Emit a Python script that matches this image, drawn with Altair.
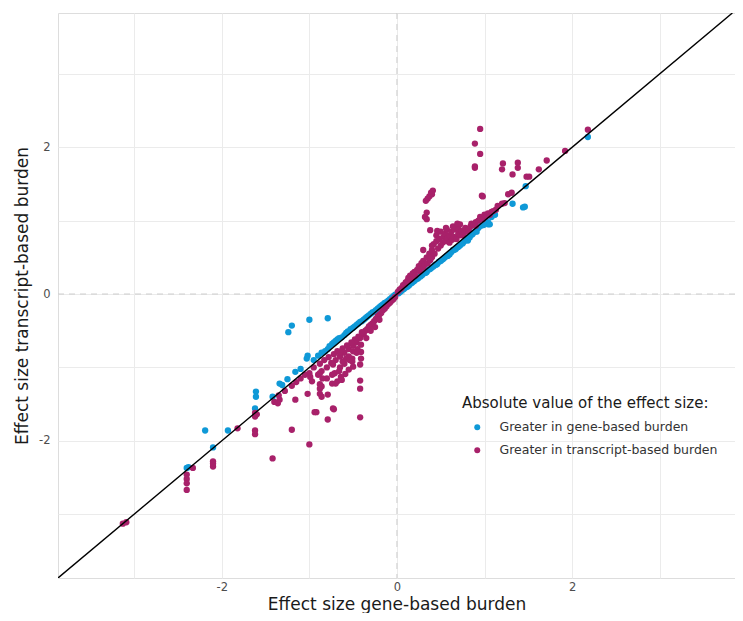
import altair as alt
import pandas as pd

# ---- data ----
blue_x = [0.02, 0.04, 0.06, 0.08, 0.10, 0.12, 0.14, 0.15, 0.17, 0.19, 0.20, 0.22, 0.24, 0.25, 0.27,
          0.29, 0.30, 0.32, 0.34, 0.36, 0.38, 0.40, 0.42, 0.44, 0.46, 0.48, 0.50, 0.52, 0.55, 0.57,
          0.60, 0.62, 0.65, 0.68, 0.70, 0.73, 0.76, 0.78, 0.80, 0.84, 0.88, 0.90, 0.93, 0.96, 1.04,
          1.04, 1.02, 1.08, 1.12, 1.32, 1.44, 1.46, 1.47, 2.18, 1.06, 0.86, 0.64, 0.81, 0.60, 0.72,
          0.33, 0.45, 0.53, 0.67, 0.75, 0.91, 0.99, 0.58, 0.70, 0.83,
          -0.02, -0.04, -0.06, -0.08, -0.10, -0.12, -0.14, -0.16, -0.18, -0.20, -0.22, -0.24, -0.26,
          -0.28, -0.30, -0.32, -0.34, -0.36, -0.38, -0.40, -0.42, -0.44, -0.46, -0.48, -0.50, -0.53,
          -0.56, -0.58, -0.60, -0.63, -0.66, -0.70, -0.74, -0.79, -0.82, -0.90, -0.95, -1.02, -1.03,
          -1.00, -0.79, -1.20, -1.24, -1.16, -1.31, -1.34, -1.42, -1.61, -1.61, -1.62, -2.19, -1.93,
          -2.10, -2.40, -2.38, -0.68, -0.72, -0.77, -0.86, -1.10, -1.25]
blue_y = [0.01, 0.03, 0.05, 0.07, 0.09, 0.10, 0.12, 0.14, 0.15, 0.17, 0.18, 0.20, 0.21, 0.23, 0.24,
          0.26, 0.28, 0.29, 0.30, 0.33, 0.34, 0.36, 0.38, 0.40, 0.41, 0.44, 0.45, 0.47, 0.50, 0.52,
          0.55, 0.57, 0.60, 0.63, 0.65, 0.68, 0.71, 0.73, 0.76, 0.80, 0.84, 0.86, 0.90, 0.93, 0.98,
          0.95, 0.97, 1.05, 1.08, 1.23, 1.18, 1.19, 1.47, 2.14, 0.95, 0.81, 0.60, 0.73, 0.54, 0.66,
          0.29, 0.40, 0.48, 0.61, 0.69, 0.85, 0.94, 0.52, 0.64, 0.77,
          -0.01, -0.03, -0.05, -0.07, -0.09, -0.11, -0.12, -0.14, -0.16, -0.18, -0.20, -0.22, -0.24,
          -0.25, -0.27, -0.29, -0.31, -0.33, -0.35, -0.37, -0.38, -0.40, -0.42, -0.44, -0.46, -0.48,
          -0.51, -0.53, -0.56, -0.59, -0.60, -0.64, -0.68, -0.75, -0.78, -0.84, -0.90, -0.84, -0.88,
          -0.35, -0.33, -0.43, -0.52, -1.06, -1.24, -1.22, -1.40, -1.33, -1.40, -1.56, -1.86, -1.86,
          -2.09, -2.37, -2.36, -0.62, -0.66, -0.71, -0.80, -1.02, -1.16]

mag_x = [0.01, 0.03, 0.05, 0.07, 0.09, 0.10, 0.12, 0.13, 0.15, 0.16, 0.18, 0.20, 0.21, 0.23, 0.25,
         0.26, 0.28, 0.30, 0.30, 0.32, 0.34, 0.35, 0.37, 0.38, 0.40, 0.40, 0.42, 0.43, 0.45, 0.45,
         0.47, 0.48, 0.50, 0.50, 0.52, 0.53, 0.55, 0.55, 0.57, 0.58, 0.60, 0.60, 0.62, 0.63, 0.65,
         0.66, 0.68, 0.70, 0.70, 0.72, 0.74, 0.75, 0.77, 0.78, 0.80, 0.82, 0.84, 0.85, 0.87, 0.90,
         0.90, 0.93, 0.95, 0.98, 1.00, 1.02, 1.04, 1.06, 1.08, 1.10, 1.13, 1.15,
         0.35, 0.37, 0.39, 0.41, 0.40, 0.33, 0.34, 0.32, 0.34, 0.97, 0.89, 1.20, 0.95, 0.89, 0.95,
         0.89, 1.21, 1.38, 1.38, 1.32, 1.48, 1.51, 1.62, 1.71, 1.92, 2.18, 0.98, 1.27, 1.31, 1.20,
         1.23, 0.38, 0.72, 0.40, 0.30, 0.46, 0.56, 0.64, 0.69,
         -0.02, -0.04, -0.06, -0.08, -0.10, -0.12, -0.14, -0.16, -0.18, -0.20, -0.22, -0.24, -0.26,
         -0.28, -0.30, -0.32, -0.34, -0.36, -0.38, -0.40, -0.42, -0.44, -0.46, -0.48, -0.50, -0.52,
         -0.55, -0.57, -0.60, -0.62, -0.65, -0.68, -0.70, -0.72, -0.75, -0.78, -0.80, -0.83, -0.86,
         -0.88, -0.90, -0.95, -1.00, -1.05, -1.10, -1.15, -1.20, -1.28, -1.35,
         -0.41, -0.41, -0.41, -0.42, -0.51, -0.51, -0.50, -0.55, -0.42, -0.42, -0.42, -0.59, -0.64,
         -0.68, -0.73, -0.71, -0.74, -0.72, -0.79, -0.92, -0.88, -0.88, -0.88, -1.02, -0.97, -1.16,
         -1.34, -1.36, -1.40, -1.00, -1.20, -1.42, -1.62, -1.62, -1.60, -1.62, -1.62, -1.82, -2.10,
         -2.10, -2.10, -2.40, -2.40, -2.40, -2.40, -2.33, -3.13, -3.09, -0.60, -0.65, -0.55, -0.30,
         -0.35, -0.25, -0.20, -0.46, -0.58, -0.62, -0.66, -0.80, -0.85, -0.50, -0.45, -0.94, -0.73,
         -0.86, -0.86, -0.79, -0.70, -0.63, -0.54, -0.65, -0.65, -0.74, -0.88, -0.99]
mag_y = [0.03, 0.06, 0.08, 0.12, 0.13, 0.16, 0.18, 0.22, 0.25, 0.20, 0.28, 0.30, 0.25, 0.33, 0.38,
         0.31, 0.42, 0.36, 0.45, 0.40, 0.50, 0.42, 0.55, 0.46, 0.60, 0.50, 0.68, 0.55, 0.72, 0.80,
         0.62, 0.75, 0.85, 0.66, 0.70, 0.78, 0.82, 0.72, 0.88, 0.76, 0.70, 0.80, 0.85, 0.74, 0.78,
         0.88, 0.75, 0.82, 0.90, 0.80, 0.86, 0.80, 0.84, 0.90, 0.86, 0.88, 0.92, 0.96, 0.94, 0.98,
         0.93, 1.00, 1.05, 1.02, 1.08, 1.06, 1.10, 1.08, 1.12, 1.13, 1.15, 1.20,
         1.30, 1.33, 1.38, 1.41, 1.36, 1.27, 1.11, 1.05, 1.02, 1.34, 1.72, 1.70, 2.25, 2.05, 1.91,
         1.74, 1.78, 1.79, 1.72, 1.63, 1.60, 1.60, 1.70, 1.82, 1.95, 2.24, 1.33, 1.36, 1.38, 1.23,
         1.24, 0.87, 0.95, 0.66, 0.60, 0.86, 0.90, 0.92, 0.96,
         -0.04, -0.07, -0.09, -0.12, -0.14, -0.17, -0.20, -0.22, -0.26, -0.28, -0.30, -0.34, -0.37,
         -0.40, -0.42, -0.44, -0.48, -0.50, -0.55, -0.52, -0.60, -0.58, -0.66, -0.62, -0.70, -0.66,
         -0.75, -0.70, -0.80, -0.74, -0.85, -0.78, -0.90, -0.82, -0.94, -0.86, -1.00, -0.90, -1.05,
         -0.95, -1.10, -1.00, -1.08, -1.10, -1.15, -1.20, -1.25, -1.32, -1.38,
         -0.69, -0.79, -0.88, -0.96, -0.88, -0.92, -0.99, -1.03, -1.18, -1.29, -1.68, -1.09, -1.13,
         -1.19, -0.96, -1.08, -1.22, -1.57, -1.71, -1.61, -1.23, -1.29, -1.36, -1.36, -1.19, -1.44,
         -1.44, -1.49, -1.47, -2.05, -1.85, -2.24, -1.67, -1.62, -1.64, -1.86, -1.91, -1.83, -2.28,
         -2.35, -2.31, -2.46, -2.52, -2.58, -2.67, -2.37, -3.13, -3.11, -0.95, -1.00, -0.85, -0.50,
         -0.60, -0.45, -0.35, -0.80, -0.88, -0.92, -1.05, -1.15, -1.15, -0.78, -0.75, -1.61, -1.56,
         -1.26, -1.40, -1.37, -1.22, -1.17, -0.90, -0.85, -0.79, -1.10, -1.08, -1.13]

group_labels = ["Greater in gene-based burden", "Greater in transcript-based burden"]
group_colors = ["#0f99d7", "#a8216a"]

x_domain = [-3.87, 3.86]
y_domain = [-3.87, 3.83]
grid_values = [-3, -2, -1, 0, 1, 2, 3]

n_b = min(len(blue_x), len(blue_y))
n_m = min(len(mag_x), len(mag_y))
df = pd.concat([
    pd.DataFrame({"x": blue_x[:n_b], "y": blue_y[:n_b], "group": group_labels[0]}),
    pd.DataFrame({"x": mag_x[:n_m], "y": mag_y[:n_m], "group": group_labels[1]}),
], ignore_index=True)

FONT = "DejaVu Sans"

xscale = alt.Scale(domain=x_domain, nice=False, zero=False)
yscale = alt.Scale(domain=y_domain, nice=False, zero=False)

label_expr = "datum.value % 2 == 0 ? '' + datum.value : ''"

x_axis = alt.Axis(values=grid_values, labelExpr=label_expr, title="Effect size gene-based burden",
                  domain=False, ticks=False, grid=True, gridColor="#ebebeb", gridWidth=1,
                  labelFont=FONT, labelFontSize=11.5, labelColor="#4d4d4d", labelPadding=3,
                  titleFont=FONT, titleFontSize=17, titleFontWeight="normal", titleColor="#1a1a1a",
                  titleBaseline="alphabetic", titleY=31, labelFlush=False)
y_axis = alt.Axis(values=grid_values, labelExpr=label_expr, title="Effect size transcript-based burden",
                  domain=False, ticks=False, grid=True, gridColor="#ebebeb", gridWidth=1,
                  labelFont=FONT, labelFontSize=11.5, labelColor="#4d4d4d", labelPadding=8,
                  titleFont=FONT, titleFontSize=17, titleFontWeight="normal", titleColor="#1a1a1a",
                  titleBaseline="alphabetic", titleX=-31, labelFlush=False)

zero_df = pd.DataFrame({"v": [0]})
hline = alt.Chart(zero_df).mark_rule(color="#cccccc", strokeDash=[6, 5], strokeWidth=1).encode(
    y=alt.Y("v:Q", scale=yscale, axis=y_axis))
vline = alt.Chart(zero_df).mark_rule(color="#cccccc", strokeDash=[6, 5], strokeWidth=1).encode(
    x=alt.X("v:Q", scale=xscale, axis=x_axis))

points = alt.Chart(df).mark_circle(size=40, opacity=1).encode(
    x=alt.X("x:Q", scale=xscale, axis=x_axis),
    y=alt.Y("y:Q", scale=yscale, axis=y_axis),
    color=alt.Color("group:N", scale=alt.Scale(domain=group_labels, range=group_colors),
                    legend=alt.Legend(title="Absolute value of the effect size:", orient="none",
                                      legendX=404, legendY=383, titleFont=FONT, titleFontSize=15,
                                      titleFontWeight="normal", titleColor="#1a1a1a", titlePadding=10,
                                      titleLimit=0, labelLimit=0,
                                      labelFont=FONT, labelFontSize=12.5, labelColor="#333333",
                                      symbolType="circle", symbolSize=36, symbolStrokeWidth=0,
                                      symbolOffset=9, labelOffset=16, rowPadding=10, padding=0)),
)

diag_df = pd.DataFrame({"x": [x_domain[0], y_domain[1]], "y": [x_domain[0], y_domain[1]]})
diag = alt.Chart(diag_df).mark_line(color="black", strokeWidth=1.4, clip=True).encode(
    x=alt.X("x:Q", scale=xscale, axis=x_axis),
    y=alt.Y("y:Q", scale=yscale, axis=y_axis))

chart = alt.layer(hline, vline, points, diag).properties(
    width=677, height=565,
    autosize=alt.AutoSizeParams(type="none"),
    padding={"left": 50, "top": 5, "right": 0, "bottom": 35},
).configure_view(stroke=None).configure(background="white")

chart.save("out.html", embed_options={"renderer": "svg", "actions": False})
